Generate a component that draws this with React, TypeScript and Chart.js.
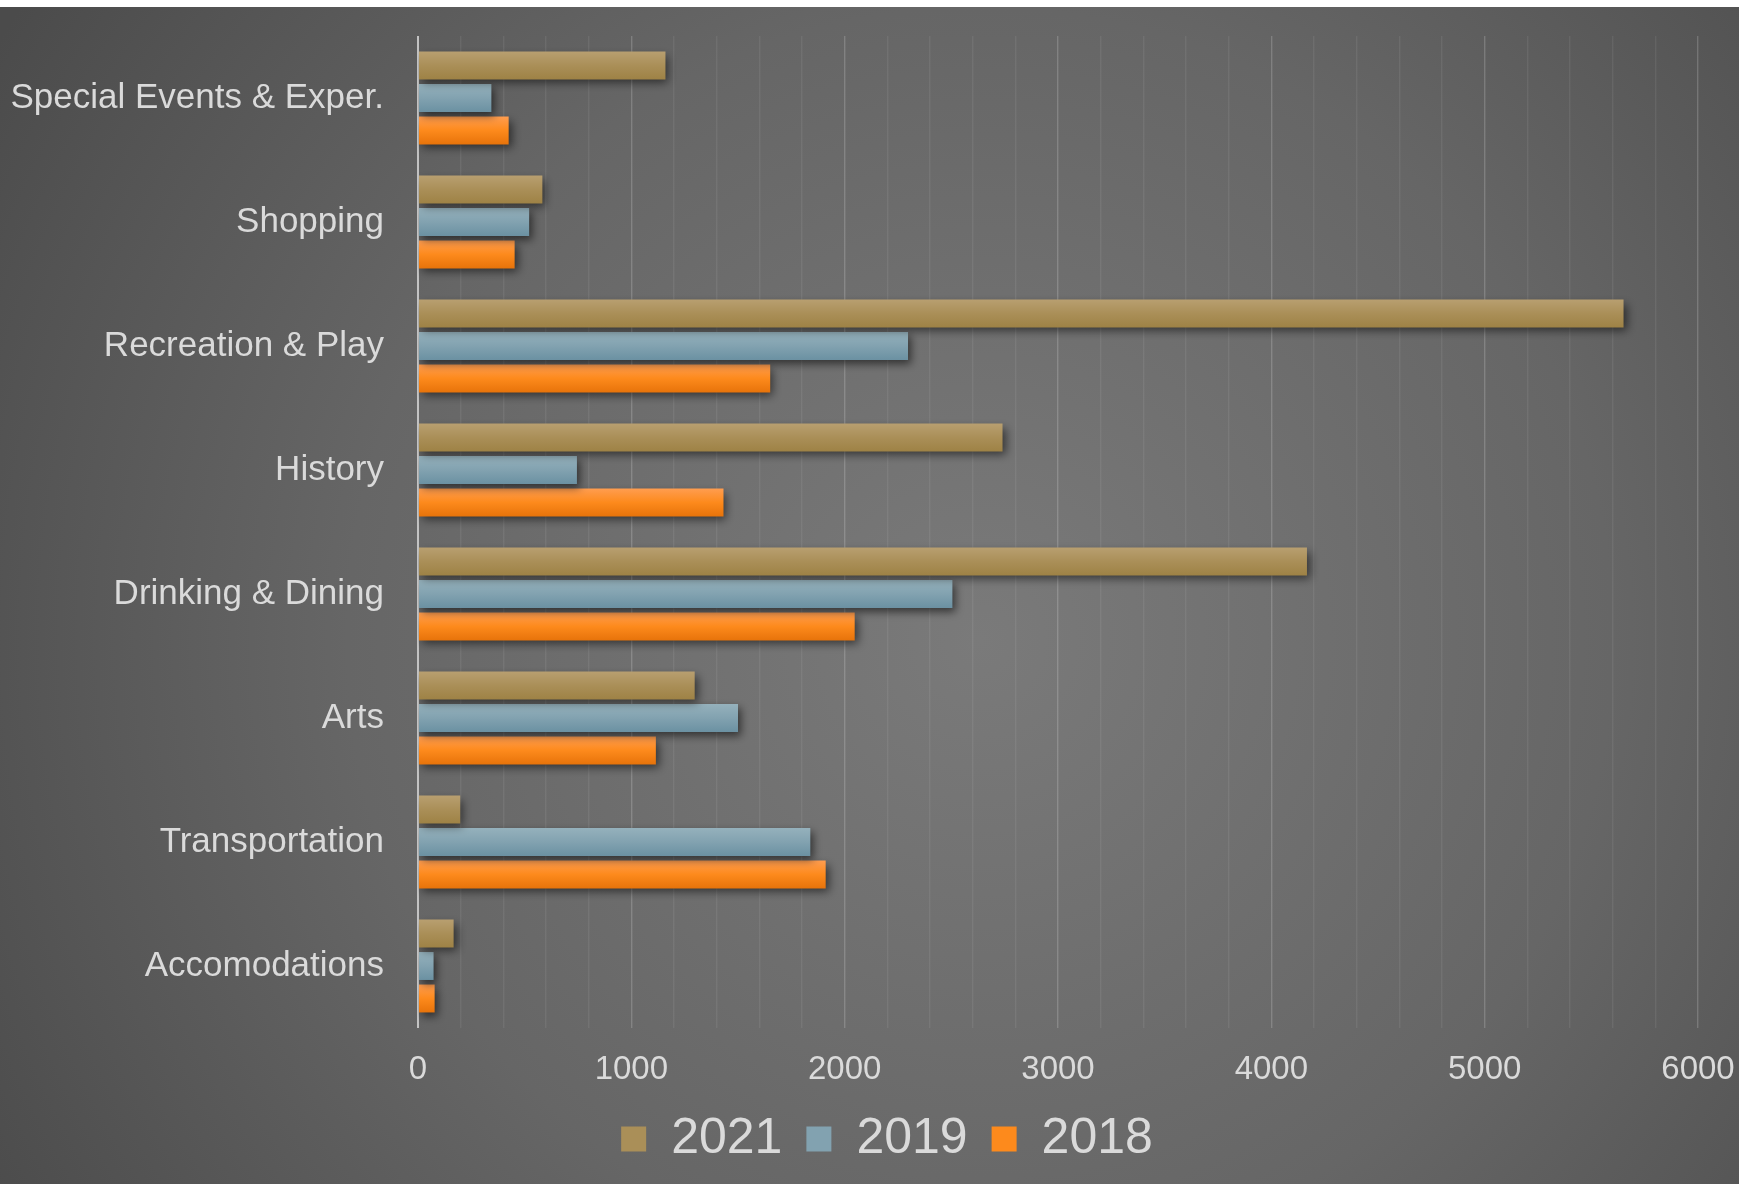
import { useEffect, useRef } from "react";
import { Chart, registerables } from "chart.js";

Chart.register(...registerables);

// ---- data (top to bottom as shown) ----
const categories = [
  "Special Events & Exper.",
  "Shopping",
  "Recreation & Play",
  "History",
  "Drinking & Dining",
  "Arts",
  "Transportation",
  "Accomodations",
];
const seriesNames = ["2021", "2019", "2018"];
const values2021 = [1160, 583, 5651, 2740, 4167, 1297, 198, 167];
const values2019 = [344, 521, 2297, 745, 2505, 1500, 1839, 73];
const values2018 = [425, 453, 1651, 1432, 2047, 1115, 1911, 78];
const axisMin = 0;
const axisMax = 6000;
const minorStep = 200;
const majorStep = 1000;

// ---- styles ----
const gradStops: string[][] = [
  ["#b89f70", "#aa8f58", "#9e8245"],
  ["#95b1bc", "#82a2b0", "#6b91a2"],
  ["#ff9d50", "#fd8a1c", "#e7730a"],
];
const midColors = ["#aa8f58", "#82a2b0", "#fd8a1c"];
const FONT = "'Liberation Sans', Arial, sans-serif";
const TEXT = "#dadada";

function zeroPadding(s: any) {
  s.paddingLeft = 0;
  s.paddingRight = 0;
  s.paddingTop = 0;
  s.paddingBottom = 0;
}

export default function App() {
  const ref = useRef<HTMLCanvasElement | null>(null);

  useEffect(() => {
    document.body.style.margin = "0";
    const canvas = ref.current;
    if (!canvas) return;

    const bgPlugin = {
      id: "bgPlugin",
      beforeDraw(chart: any) {
        const { ctx, width, height } = chart;
        ctx.save();
        ctx.fillStyle = "#ffffff";
        ctx.fillRect(0, 0, width, height);
        const g = ctx.createRadialGradient(980, 640, 0, 980, 640, 1150);
        g.addColorStop(0, "#7a7a7a");
        g.addColorStop(0.55, "#666666");
        g.addColorStop(1, "#4b4b4b");
        ctx.fillStyle = g;
        ctx.fillRect(0, 7, width, height - 7);
        ctx.restore();
      },
    };

    const barStyle = {
      id: "barStyle",
      beforeDatasetsDraw(chart: any) {
        const ctx = chart.ctx;
        chart.data.datasets.forEach((_ds: any, i: number) => {
          const meta = chart.getDatasetMeta(i);
          const stops = gradStops[i];
          meta.data.forEach((el: any) => {
            const h = el.height;
            const top = el.y - h / 2;
            const g = ctx.createLinearGradient(0, top, 0, top + h);
            g.addColorStop(0, stops[0]);
            g.addColorStop(0.5, stops[1]);
            g.addColorStop(1, stops[2]);
            el.options.backgroundColor = g;
          });
        });
        ctx.save();
        ctx.shadowColor = "rgba(0,0,0,0.55)";
        ctx.shadowBlur = 9;
        ctx.shadowOffsetX = 3;
        ctx.shadowOffsetY = 4;
      },
      afterDatasetsDraw(chart: any) {
        chart.ctx.restore();
      },
    };

    const legendShift = {
      id: "legendShift",
      afterLayout(chart: any) {
        const lg = chart.legend;
        if (lg) {
          lg.top -= 10;
          lg.bottom -= 10;
          lg.left += 38;
          lg.right += 38;
        }
      },
    };

    const seriesValues = [values2021, values2019, values2018];

    const chart = new Chart(canvas, {
      type: "bar",
      data: {
        labels: categories,
        datasets: seriesNames.map((name, i) => ({
          label: name,
          data: seriesValues[i],
          backgroundColor: () => midColors[i],
          borderWidth: 0,
          categoryPercentage: 0.786,
          barPercentage: 0.86,
        })),
      },
      options: {
        indexAxis: "y",
        responsive: false,
        animation: false,
        layout: { autoPadding: false, padding: { top: 36, right: 41, left: 0, bottom: 0 } },
        plugins: {
          tooltip: { enabled: false },
          legend: {
            position: "bottom",
            align: "center",
            labels: {
              color: TEXT,
              font: { family: FONT, size: 50 },
              boxWidth: 25,
              boxHeight: 25,
              padding: 24,
            },
          },
        },
        scales: {
          x: {
            type: "linear",
            min: axisMin,
            max: axisMax,
            border: { display: false },
            grid: {
              drawTicks: false,
              color: (c: any) =>
                c.tick.value === 0
                  ? "rgba(205,205,205,0.9)"
                  : c.tick.value % majorStep === 0
                  ? "rgba(255,255,255,0.18)"
                  : "rgba(255,255,255,0.07)",
              lineWidth: (c: any) => (c.tick.value === 0 ? 2 : 1.4),
            },
            ticks: {
              stepSize: minorStep,
              autoSkip: false,
              maxRotation: 0,
              color: TEXT,
              font: { family: FONT, size: 33 },
              padding: 22,
              callback: (v: any) => (Number(v) % majorStep === 0 ? String(v) : ""),
            },
            afterFit(s: any) {
              s.height = 72;
              zeroPadding(s);
            },
          },
          y: {
            border: { display: false },
            grid: { display: false, drawTicks: false },
            ticks: {
              color: TEXT,
              font: { family: FONT, size: 35 },
              padding: 34,
            },
            afterFit(s: any) {
              s.width = 418;
              zeroPadding(s);
            },
          },
        },
      },
      plugins: [bgPlugin, barStyle, legendShift],
    } as any);

    return () => chart.destroy();
  }, []);

  return (
    <div style={{ width: 1739, height: 1184, overflow: "hidden" }}>
      <canvas ref={ref} width={1739} height={1184} style={{ display: "block" }} />
    </div>
  );
}
